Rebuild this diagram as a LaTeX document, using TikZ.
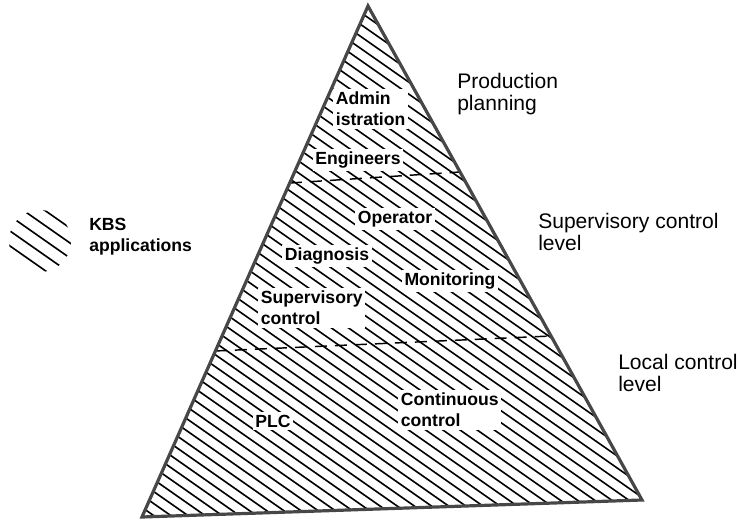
\documentclass[tikz,border=0pt]{standalone}
\usepackage{fontspec}
\setmainfont{Liberation Sans}
\begin{document}
\begin{tikzpicture}[x=0.75pt,y=-0.75pt,
  hatch/.style={line width=1.2pt,black},
  level/.style={line width=1.1pt,dash pattern=on 9pt off 6pt},
  outline/.style={line width=2.4pt,draw=black!72,line join=miter},
  inlabel/.style={fill=white,inner sep=2pt,align=left,
    font=\fontsize{13.2}{15.8}\selectfont\bfseries},
  outlabel/.style={anchor=west,inner sep=0pt,align=left,
    font=\fontsize{15.8}{16.8}\selectfont}]
\useasboundingbox (0,0) rectangle (740,524);

% corners of the pyramid
\coordinate (A) at (368,6);
\coordinate (B) at (142,517);
\coordinate (C) at (642,500);

% hatching of the pyramid (KBS applications)
\begin{scope}
  \clip (A) -- (B) -- (C) -- cycle;
  \foreach \b in {-264,-252,...,432}
    \draw[hatch] (100,\b+70) -- (700,\b+490);
\end{scope}

% level boundaries
\coordinate (l1a) at (290,183);
\coordinate (l1b) at (460,172);
\coordinate (l2a) at (215,351);
\coordinate (l2b) at (551,336);
\draw[level] (l1a) -- (l1b);
\draw[level] (l2a) -- (l2b);

% labels inside the pyramid
\node[inlabel,anchor=west] (adm) at (333,109) {Admin\\istration};
\node[inlabel] (eng) at (358,160) {Engineers};
\node[inlabel] (op) at (395,219) {Operator};
\node[inlabel] (diag) at (327,256) {Diagnosis};
\node[inlabel] (mon) at (450,281) {Monitoring};
\node[inlabel,anchor=west] (sup) at (258,308) {Supervisory\\control};
\node[inlabel] (plc) at (273,421) {PLC};
\node[inlabel,anchor=west] (cont) at (398,410) {Continuous\\control};

% pyramid outline
\draw[outline] (A) -- (B) -- (C) -- cycle;

% level names
\node[outlabel] (prod) at (457,94) {Production\\planning};
\node[outlabel] (supl) at (538,232) {Supervisory control\\level};
\node[outlabel] (loc) at (618,373) {Local control\\level};

% legend
\coordinate (kc) at (40,241);
\begin{scope}
  \clip (kc) circle[radius=31];
  \foreach \c in {179,194,...,250}
    \draw[hatch] (0,\c) -- (100,\c+70);
\end{scope}
\node[anchor=west,inner sep=0pt,align=left,
  font=\fontsize{13.2}{15.8}\selectfont\bfseries] (kbs) at (89,237) {KBS\\applications};
\end{tikzpicture}
\end{document}
